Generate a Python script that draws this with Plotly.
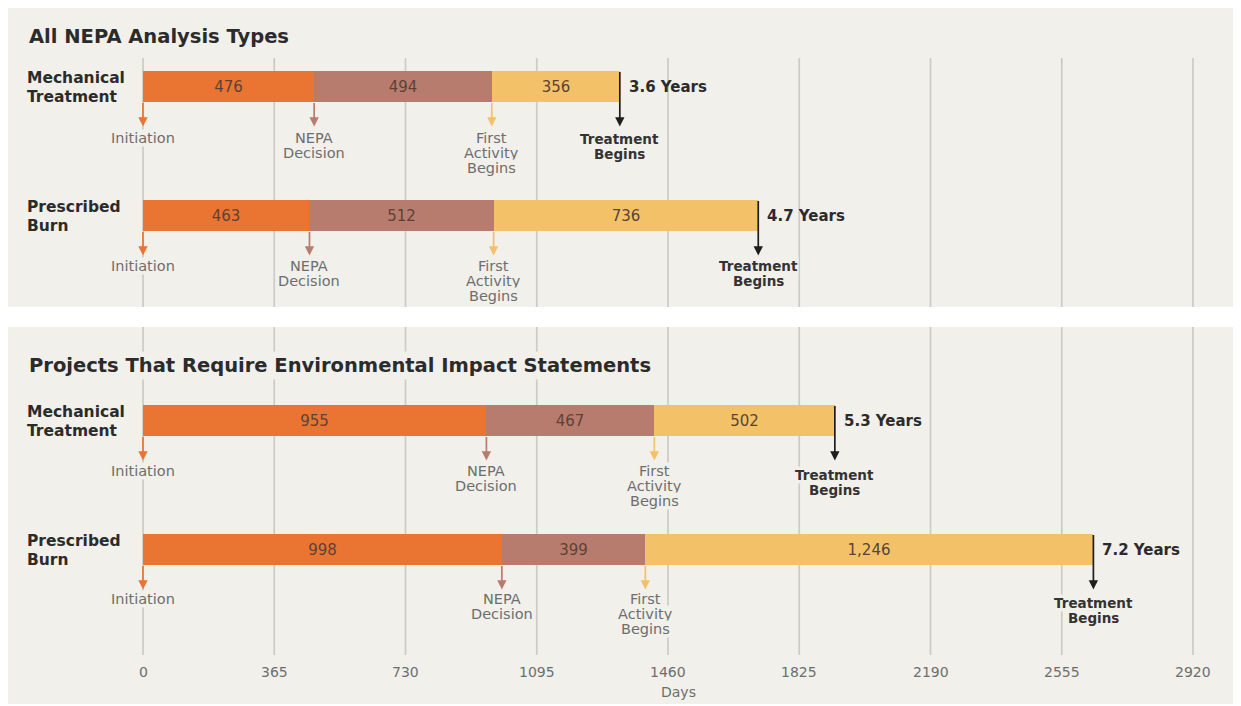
import plotly.graph_objects as go

# ---------------- data ----------------
panel_titles = ["All NEPA Analysis Types",
                "Projects That Require Environmental Impact Statements"]
row_labels = [["Mechanical", "Treatment"], ["Prescribed", "Burn"],
              ["Mechanical", "Treatment"], ["Prescribed", "Burn"]]
initiation_to_decision = [476, 463, 955, 998]
decision_to_activity = [494, 512, 467, 399]
activity_to_treatment = [356, 736, 502, 1246]
tick_values = [0, 365, 730, 1095, 1460, 1825, 2190, 2555, 2920]
axis_title = "Days"
milestone_names = [["Initiation"], ["NEPA", "Decision"], ["First", "Activity", "Begins"],
                   ["Treatment", "Begins"]]

# ---------------- style / layout ----------------
# page body adds an 8px offset, so the figure is 8px smaller and
# all positions below are given in reference-image pixels
OFF = 8
W, H = 1241 - OFF, 706 - OFF
PX0, PX2920 = 143, 1193
ppd = (PX2920 - PX0) / 2920.0
x_range = [-(PX0 - OFF) / ppd, (W - (PX0 - OFF)) / ppd]


def px(xr):
    return (xr - OFF) / W


row_centers = [86, 215, 420, 549]
bar_h = 31
panel_boxes = [(8, 307), (327, 704)]
grid_spans = [(58, 307), (327, 655)]
title_y = [36, 365]
label_gap = [36, 35, 35, 34]
treat_gap = [37, 35, 39, 38]
line_step = 15

c_init = "#EA7533"
c_nepa = "#B87C6F"
c_act = "#F3C268"
panel_bg = "#F1F0EB"
grid_c = "#CBCBC7"
dark = "#2B2B2B"
label_grey = "#6E6E6E"
value_c = "#5C4236"
FONT = "DejaVu Sans"

fig = go.Figure()

seg_names = ["Initiation to NEPA decision", "NEPA decision to first activity",
             "First activity to treatment"]
seg_colors = [c_init, c_nepa, c_act]
seg_values = [initiation_to_decision, decision_to_activity, activity_to_treatment]

bases = [[0] * 4, list(initiation_to_decision),
         [a + b for a, b in zip(initiation_to_decision, decision_to_activity)]]
totals = [a + b + c for a, b, c in zip(initiation_to_decision, decision_to_activity, activity_to_treatment)]

for name, col, vals, base in zip(seg_names, seg_colors, seg_values, bases):
    fig.add_trace(go.Bar(
        orientation="h", y=row_centers, x=vals, base=base, width=bar_h,
        marker=dict(color=col, line=dict(width=0)), name=name,
        text=vals, texttemplate="%{x:,}", textposition="inside",
        insidetextanchor="middle", constraintext="none",
        textfont=dict(family=FONT, size=15, color=value_c),
        hoverinfo="skip", showlegend=False))

shapes = []
for (y0, y1) in panel_boxes:
    shapes.append(dict(type="rect", xref="paper", yref="y", x0=0, x1=1, y0=y0, y1=y1,
                       fillcolor=panel_bg, line=dict(width=0), layer="below"))
for (y0, y1) in grid_spans:
    for t in tick_values:
        shapes.append(dict(type="line", xref="x", yref="y", x0=t, x1=t, y0=y0, y1=y1,
                           line=dict(color=grid_c, width=1.7), layer="below"))

ann = []


def add_lines(lines, x, y_first, step, font, xref="x", xanchor="center", bg=panel_bg):
    for j, line in enumerate(lines):
        ann.append(dict(text=line, x=x, y=y_first + j * step, xref=xref, yref="y",
                        xanchor=xanchor, yanchor="middle", showarrow=False,
                        bgcolor=bg, borderpad=0, font=font))


for t, y in zip(panel_titles, title_y):
    ann.append(dict(text=t, xref="paper", yref="y", x=px(26), y=y, xanchor="left", yanchor="middle",
                    showarrow=False, bgcolor=panel_bg, borderpad=2,
                    font=dict(family=FONT, size=19.5, color=dark, weight="bold")))

row_font = dict(family=FONT, size=15.5, color=dark, weight="bold")
for lab, yc in zip(row_labels, row_centers):
    add_lines(lab, px(26), yc - 8, 19, row_font, xref="paper", xanchor="left", bg=None)

ms_font = dict(family=FONT, size=14.5, color=label_grey)
tb_font = dict(family=FONT, size=13.5, color="#333333", weight="bold")
for i, yc in enumerate(row_centers):
    bottom = yc + bar_h / 2
    marks = [0, bases[1][i], bases[2][i]]
    for k, (xm, col) in enumerate(zip(marks, seg_colors)):
        ann.append(dict(text="", x=xm, y=bottom + 25, xref="x", yref="y", ax=0, ay=-25,
                        showarrow=True, arrowhead=2, arrowsize=1.1, arrowwidth=1.7,
                        arrowcolor=col, standoff=0))
        add_lines(milestone_names[k], xm, bottom + label_gap[i], line_step, ms_font)
    ann.append(dict(text="", x=totals[i], y=bottom + 25, xref="x", yref="y", ax=0, ay=-(25 + bar_h),
                    showarrow=True, arrowhead=2, arrowsize=1.1, arrowwidth=1.7,
                    arrowcolor="#1E1E1E", standoff=0))
    add_lines(milestone_names[3], totals[i], bottom + treat_gap[i], line_step, tb_font)
    ann.append(dict(text=f"{totals[i] / 365:.1f} Years", x=totals[i], y=yc + 1, xref="x", yref="y",
                    xanchor="left", yanchor="middle", xshift=7, showarrow=False,
                    font=dict(family=FONT, size=15, color=dark, weight="bold")))

for t in tick_values:
    ann.append(dict(text=str(t), x=t, y=672, xref="x", yref="y", showarrow=False,
                    xanchor="center", yanchor="middle",
                    font=dict(family=FONT, size=14, color=label_grey)))
ann.append(dict(text=axis_title, x=1460, y=692, xref="x", yref="y", showarrow=False, xshift=10,
                xanchor="center", yanchor="middle",
                font=dict(family=FONT, size=14, color=label_grey)))

fig.update_layout(
    width=W, height=H, margin=dict(l=0, r=0, t=0, b=0),
    paper_bgcolor="white", plot_bgcolor="white",
    barmode="overlay", bargap=0,
    xaxis=dict(range=x_range, visible=False, fixedrange=True),
    yaxis=dict(range=[706, OFF], visible=False, fixedrange=True),
    shapes=shapes, annotations=ann, showlegend=False,
)

fig.write_html("out.html")
